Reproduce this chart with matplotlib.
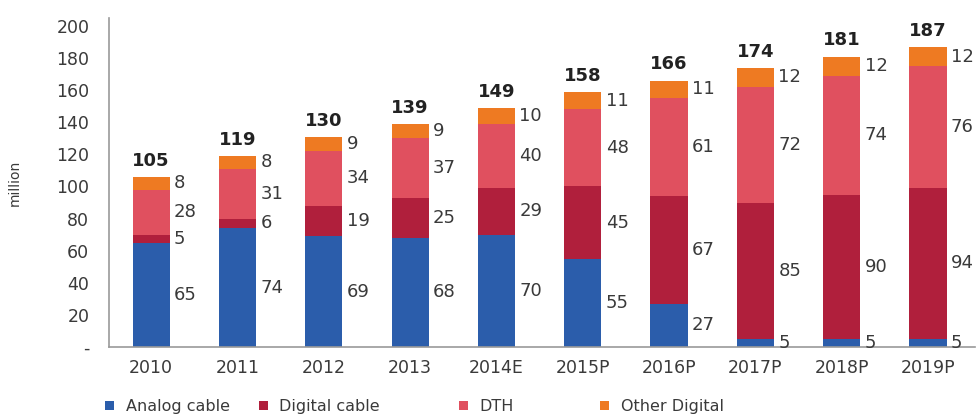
import matplotlib

matplotlib.use("Agg")
import matplotlib.pyplot as plt
from matplotlib.patches import Patch
import numpy as np

years = ["2010", "2011", "2012", "2013", "2014E", "2015P", "2016P", "2017P", "2018P", "2019P"]
analog = [65, 74, 69, 68, 70, 55, 27, 5, 5, 5]
digital = [5, 6, 19, 25, 29, 45, 67, 85, 90, 94]
dth = [28, 31, 34, 37, 40, 48, 61, 72, 74, 76]
other = [8, 8, 9, 9, 10, 11, 11, 12, 12, 12]
totals = [105, 119, 130, 139, 149, 158, 166, 174, 181, 187]
series_names = ["Analog cable", "Digital cable", "DTH", "Other Digital"]

COLORS = ["#2b5dab", "#b01f3c", "#e0505f", "#ee7a22"]
TEXT = "#3a3a3a"
SPINE = "#9a9a9a"

fig = plt.figure(figsize=(9.8, 4.19), dpi=100)
ax = fig.add_axes([0.111, 0.172, 0.884, 0.785])

x = np.arange(len(years))
width = 0.43
bottom = np.zeros(len(years))
for vals, col in zip([analog, digital, dth, other], COLORS):
    vals = np.array(vals, dtype=float)
    ax.bar(x, vals, width, bottom=bottom, color=col, edgecolor="none")
    for xi, b, v in zip(x, bottom, vals):
        ax.text(xi + width / 2 + 0.05, b + v / 2, str(int(v)), ha="left", va="center",
                fontsize=13, color=TEXT)
    bottom += vals

for xi, top, t in zip(x, bottom, totals):
    ax.text(xi, top + 4.5, str(t), ha="center", va="bottom", fontsize=13,
            fontweight="bold", color="#222222")

ax.set_xlim(-0.49, len(years) - 0.455)
ax.set_ylim(0, 205)
ax.set_yticks(range(0, 201, 20))
ax.set_yticklabels(["-"] + [str(v) for v in range(20, 201, 20)])
ax.set_xticks(x)
ax.set_xticklabels(years)
ax.tick_params(axis="both", length=0, labelsize=12.5, colors=TEXT)
ax.tick_params(axis="y", pad=14)
ax.tick_params(axis="x", pad=9)
for s in ("top", "right"):
    ax.spines[s].set_visible(False)
for s in ("left", "bottom"):
    ax.spines[s].set_color(SPINE)
    ax.spines[s].set_linewidth(1.2)
ax.set_ylabel("million", fontsize=10, color=TEXT)
ax.yaxis.set_label_coords(-0.10, 0.5)

# legend entries sit at uneven spacing in the source, so place each one
leg_x = [0.107, 0.264, 0.468, 0.612]
for name, col, lx in zip(series_names, COLORS, leg_x):
    fig.legend([Patch(facecolor=col, edgecolor="none")], [name], loc="center left",
               bbox_to_anchor=(lx, 0.03), frameon=False, fontsize=11.5,
               handlelength=0.6, handleheight=0.45, handletextpad=0.7,
               borderpad=0, borderaxespad=0, labelcolor=TEXT)

fig.savefig("out.png", dpi=100, facecolor="white")
